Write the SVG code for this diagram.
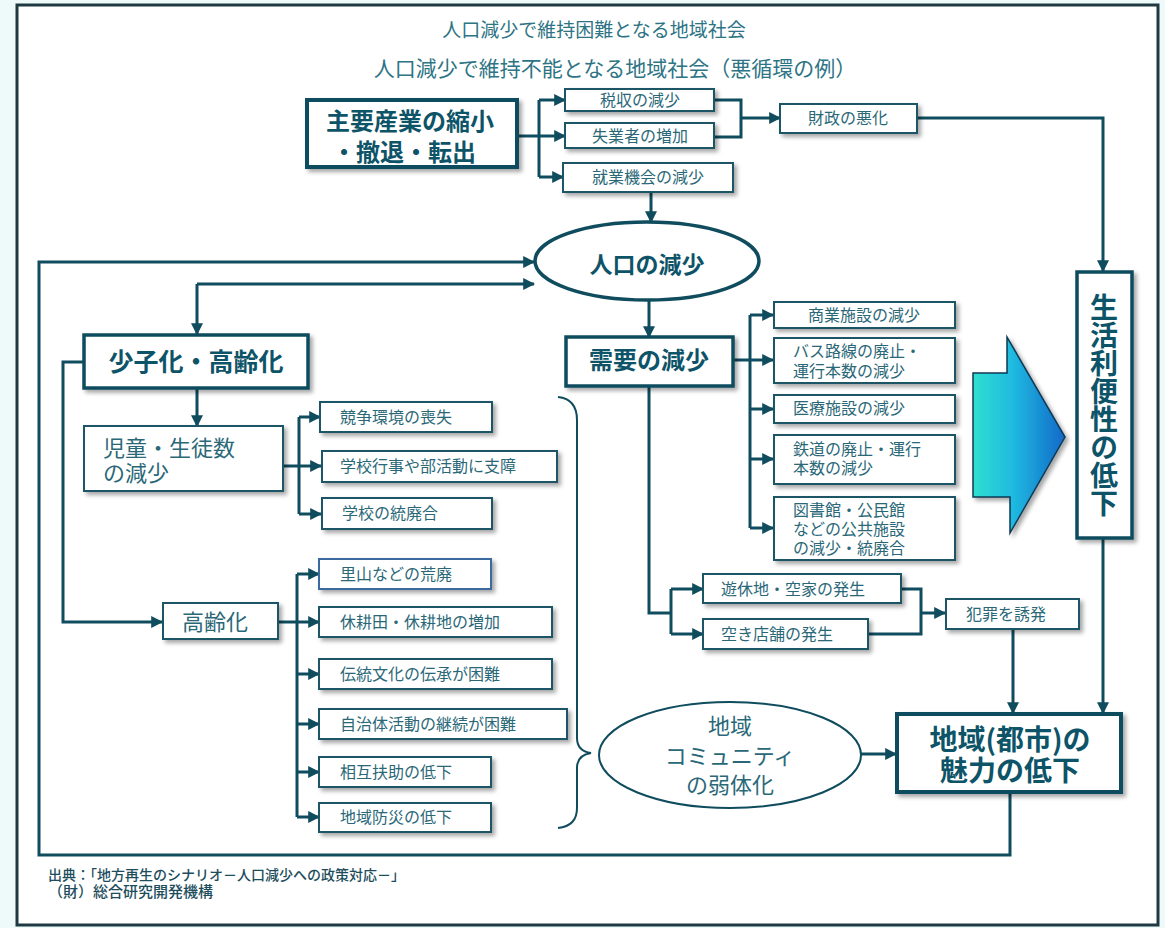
<svg xmlns="http://www.w3.org/2000/svg" width="1165" height="928" viewBox="0 0 1165 928">
<style>
text{font-family:"Noto Sans CJK JP","Noto Sans",sans-serif}
.box{fill:#fff;stroke:#1a5566;stroke-width:2;filter:url(#sh)}
.bbox{fill:#fff;stroke:#0f4c5e;stroke-width:3.5;filter:url(#sh)}
.t{font-size:16px;fill:#2a6878}
.tm{font-size:22px;fill:#2a6878}
.tb{font-size:24px;font-weight:bold;fill:#0e5468}
.c{text-anchor:middle}
.ln{fill:none;stroke:#0f4c5e;stroke-width:3}
.la{fill:none;stroke:#0f4c5e;stroke-width:3;marker-end:url(#ah)}
.title{font-size:20px;fill:#2d7484;text-anchor:middle}
.foot{fill:#1d4d5c;font-weight:500}
</style>
<defs>
<filter id="sh" x="-10%" y="-10%" width="130%" height="140%">
<feDropShadow dx="3" dy="3" stdDeviation="2" flood-color="#000" flood-opacity="0.35"/>
</filter>
<marker id="ah" viewBox="0 0 10 10" refX="9" refY="5" markerWidth="12" markerHeight="12" markerUnits="userSpaceOnUse" orient="auto">
<path d="M0,0 L10,5 L0,10 z" fill="#0f4c5e"/>
</marker>
<linearGradient id="bg" x1="0" y1="0" x2="1" y2="0">
<stop offset="0" stop-color="#2fe0d0"/>
<stop offset="0.45" stop-color="#1fb8e0"/>
<stop offset="1" stop-color="#1268c8"/>
</linearGradient>
</defs>

<rect x="0" y="0" width="1165" height="928" fill="#eef9f9"/>
<rect x="17" y="5" width="1141" height="920" fill="#fff" stroke="#1e3a40" stroke-width="3"/>

<g id="title">
<text class="title" x="594" y="37" style="font-size:19px">人口減少で維持困難となる地域社会</text>
<text class="title" x="615" y="76" style="font-size:21px">人口減少で維持不能となる地域社会（悪循環の例）</text>
</g>

<g id="connectors">
<path class="ln" d="M517,136 H539"/>
<path class="ln" d="M539,100 V177"/>
<path class="la" d="M539,100 H565"/>
<path class="la" d="M539,136 H565"/>
<path class="la" d="M539,177 H563"/>
<path class="ln" d="M714,100 H741 V137 H714"/>
<path class="la" d="M741,118 H780"/>
<path class="la" d="M917,118 H1103 V271"/>
<path class="la" d="M651,192 V222"/>
<path class="la" d="M1010,793 V855 H39 V262 H534"/>
<path class="la" d="M197,284 H534"/>
<path class="la" d="M197,284 V334"/>
<path class="la" d="M197,388 V426"/>
<path class="la" d="M84,362 H63 V622 H162"/>
<path class="ln" d="M283,466 H299"/>
<path class="ln" d="M299,417 V514"/>
<path class="la" d="M299,417 H320"/>
<path class="la" d="M299,466 H321"/>
<path class="la" d="M299,514 H321"/>
<path class="ln" d="M278,622 H297"/>
<path class="ln" d="M297,574 V817"/>
<path class="la" d="M297,574 H319"/>
<path class="la" d="M297,622 H319"/>
<path class="la" d="M297,674 H319"/>
<path class="la" d="M297,724 H319"/>
<path class="la" d="M297,772 H319"/>
<path class="la" d="M297,817 H319"/>
<path class="la" d="M649,300 V337"/>
<path class="ln" d="M733,360 H750"/>
<path class="ln" d="M750,315 V528"/>
<path class="la" d="M750,315 H773"/>
<path class="la" d="M750,360 H773"/>
<path class="la" d="M750,409 H773"/>
<path class="la" d="M750,459 H773"/>
<path class="la" d="M750,528 H773"/>
<path class="ln" d="M649,386 V613 H671"/>
<path class="ln" d="M671,589 V634"/>
<path class="la" d="M671,589 H703"/>
<path class="la" d="M671,634 H703"/>
<path class="ln" d="M901,589 H921 V634 H868"/>
<path class="la" d="M921,613 H945"/>
<path class="la" d="M1013,629 V713"/>
<path class="la" d="M1103,538 V713"/>
<path class="la" d="M861,754 H896"/>
<path fill="none" stroke="#0f4c5e" stroke-width="2" d="M558,397 Q577,399 577,420 L577,738 Q577,751 591,753 Q577,755 577,768 L577,808 Q577,826 558,828"/>
</g>

<g id="n-main">
<rect class="bbox" x="307" y="100" width="210" height="67" style="stroke-width:4"/>
<text class="tb c" x="410" y="130">主要産業の縮小<tspan x="404" dy="31">・撤退・転出</tspan></text>
</g>
<g id="n-zeishu"><rect class="box" x="565" y="89" width="149" height="22"/><text class="t c" x="640" y="106">税収の減少</text></g>
<g id="n-shitsugyo"><rect class="box" x="565" y="123" width="149" height="25"/><text class="t c" x="640" y="142">失業者の増加</text></g>
<g id="n-shugyo"><rect class="box" x="563" y="163" width="170" height="29"/><text class="t c" x="648" y="183">就業機会の減少</text></g>
<g id="n-zaisei"><rect class="box" x="780" y="104" width="137" height="29"/><text class="t c" x="848" y="124">財政の悪化</text></g>

<g id="n-jinko">
<ellipse cx="647" cy="261" rx="112" ry="39" fill="#fff" stroke="#0f4c5e" stroke-width="3.5"/>
<text class="tb c" x="647" y="273" style="font-size:23px">人口の減少</text>
</g>

<g id="n-shoshi">
<rect class="bbox" x="84" y="335" width="224" height="53"/>
<text class="tb c" x="196" y="371" style="font-size:25px">少子化・高齢化</text>
</g>
<g id="n-jido">
<rect class="box" x="84" y="426" width="199" height="65"/>
<text class="tm" x="103" y="456">児童・生徒数<tspan x="103" dy="25">の減少</tspan></text>
</g>
<g id="n-kyoso"><rect class="box" x="320" y="402" width="172" height="30"/><text class="t" x="340" y="423">競争環境の喪失</text></g>
<g id="n-gakko"><rect class="box" x="322" y="451" width="235" height="31"/><text class="t" x="340" y="472">学校行事や部活動に支障</text></g>
<g id="n-toha"><rect class="box" x="322" y="498" width="170" height="31"/><text class="t" x="342" y="519">学校の統廃合</text></g>

<g id="n-koreika">
<rect class="box" x="163" y="603" width="115" height="36"/>
<text class="tm" x="182" y="630">高齢化</text>
</g>
<g id="n-satoyama"><rect class="box" x="319" y="559" width="172" height="30" style="stroke:#3a6aa0"/><text class="t" x="340" y="580">里山などの荒廃</text></g>
<g id="n-kyuko"><rect class="box" x="319" y="607" width="233" height="30"/><text class="t" x="340" y="628">休耕田・休耕地の増加</text></g>
<g id="n-dento"><rect class="box" x="319" y="659" width="233" height="30"/><text class="t" x="340" y="680">伝統文化の伝承が困難</text></g>
<g id="n-jichi"><rect class="box" x="319" y="709" width="248" height="30"/><text class="t" x="340" y="730">自治体活動の継続が困難</text></g>
<g id="n-sogo"><rect class="box" x="319" y="757" width="172" height="30"/><text class="t" x="340" y="778">相互扶助の低下</text></g>
<g id="n-bosai"><rect class="box" x="319" y="803" width="172" height="29"/><text class="t" x="340" y="823">地域防災の低下</text></g>

<g id="n-juyo">
<rect class="bbox" x="566" y="337" width="167" height="49"/>
<text class="tb c" x="649" y="369">需要の減少</text>
</g>
<g id="n-shogyo"><rect class="box" x="774" y="302" width="181" height="26"/><text class="t c" x="864" y="321">商業施設の減少</text></g>
<g id="n-bus"><rect class="box" x="774" y="338" width="181" height="45"/><text class="t" x="793" y="357">バス路線の廃止・<tspan x="793" dy="20">運行本数の減少</tspan></text></g>
<g id="n-iryo"><rect class="box" x="774" y="395" width="181" height="28"/><text class="t" x="793" y="414">医療施設の減少</text></g>
<g id="n-tetsudo"><rect class="box" x="774" y="435" width="181" height="49"/><text class="t" x="793" y="455">鉄道の廃止・運行<tspan x="793" dy="19">本数の減少</tspan></text></g>
<g id="n-tosho"><rect class="box" x="774" y="497" width="181" height="63"/><text class="t" x="793" y="516">図書館・公民館<tspan x="793" dy="19">などの公共施設</tspan><tspan x="793" dy="19">の減少・統廃合</tspan></text></g>

<g id="n-yukyu"><rect class="box" x="703" y="574" width="198" height="29"/><text class="t" x="721" y="595">遊休地・空家の発生</text></g>
<g id="n-akiten"><rect class="box" x="703" y="619" width="165" height="30"/><text class="t" x="721" y="640">空き店舗の発生</text></g>
<g id="n-hanzai"><rect class="box" x="946" y="599" width="133" height="30"/><text class="t" x="966" y="620">犯罪を誘発</text></g>

<g id="n-arrow">
<polygon points="973,373 1007,373 1007,337 1065,437 1010,533 1010,497 973,497" fill="url(#bg)" stroke="#0b3a55" stroke-width="1.5" filter="url(#sh)"/>
</g>

<g id="n-seikatsu">
<rect class="bbox" x="1077" y="272" width="55" height="266"/>
<text class="tb" x="1104" y="405" style="font-size:28px;writing-mode:vertical-rl;text-anchor:middle">生活利便性の低下</text>
</g>

<g id="n-community">
<ellipse cx="730" cy="755" rx="131" ry="53" fill="#fff" stroke="#0f4c5e" stroke-width="2"/>
<text class="tm c" x="730" y="734">地域<tspan x="730" dy="30">コミュニティ</tspan><tspan x="730" dy="29">の弱体化</tspan></text>
</g>

<g id="n-miryoku">
<rect class="bbox" x="897" y="714" width="224" height="78" style="stroke-width:4"/>
<text class="tb c" x="1010" y="750" style="font-size:28px">地域(都市)の<tspan x="1010" dy="31">魅力の低下</tspan></text>
</g>

<g id="footer">
<text class="foot" x="48" y="880" style="font-size:14px">出典：「地方再生のシナリオ－人口減少への政策対応－」<tspan x="48" dy="17" style="font-size:15px">（財）総合研究開発機構</tspan></text>
</g>
</svg>
